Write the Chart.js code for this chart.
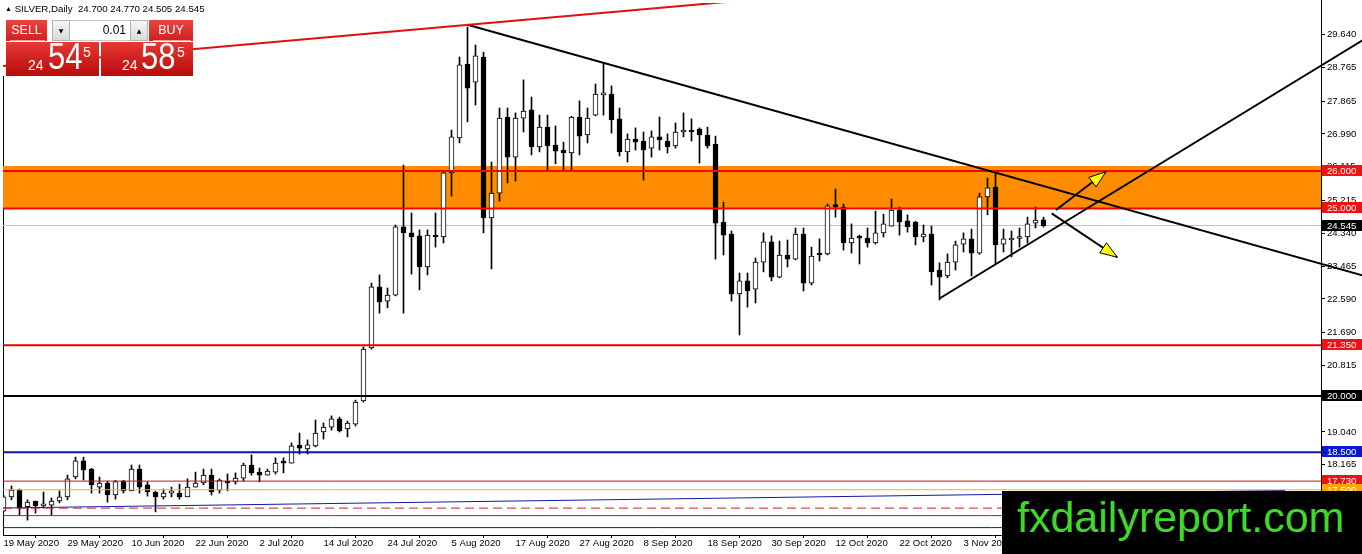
<!DOCTYPE html>
<html><head><meta charset="utf-8">
<script src="https://cdn.jsdelivr.net/npm/chart.js@4.4.0/dist/chart.umd.min.js"></script>
<style>
html,body{margin:0;padding:0;background:#fff;overflow:hidden}
#wrap{position:relative;width:1362px;height:554px;overflow:hidden}
canvas{position:absolute;left:0;top:0}
#hdr{position:absolute;left:5px;top:3px;font:9.7px 'Liberation Sans',Arial,sans-serif;color:#000;white-space:pre}
#hdr .tri{font-size:7px;position:relative;top:-1px}
.btn{position:absolute;top:20px;height:21px;background:linear-gradient(#ea4440,#d02020);color:#fff;font:12.5px 'Liberation Sans',Arial,sans-serif;text-align:center;line-height:21px}
.btn i{position:absolute;left:4px;right:2px;bottom:0;height:1px;background:#f2a0a0}
#sell{left:6px;width:41px}
#buy{left:149px;width:44px}
.arr{position:absolute;top:20px;width:18px;height:21px;box-sizing:border-box;border:1px solid #b4b4b4;background:linear-gradient(#f6f6f6,#dadada);font:6px 'DejaVu Sans',sans-serif;text-align:center;line-height:19px;color:#000}
#dn{left:52px}#up{left:130px}
#lot{position:absolute;left:70px;top:20px;width:60px;height:21px;box-sizing:border-box;border-top:1px solid #c8c8c8;border-bottom:1px solid #c8c8c8;background:#fff;font:12px 'Liberation Sans',Arial,sans-serif;text-align:right;padding-right:4px;line-height:19px;color:#000}
.big{position:absolute;top:42px;height:34px;background:linear-gradient(#e63834,#b80c0c);color:#fff;font-family:'Liberation Sans',Arial,sans-serif}
#bs{left:6px;width:93px}#bb{left:101px;width:92px}
.big span{position:absolute;white-space:nowrap}
.sm{font-size:14px;line-height:14px;top:16px}
.lg{font-size:36px;line-height:36px;top:-3px;transform:scaleX(0.86);transform-origin:0 0}
.sup{font-size:14px;line-height:14px;top:3px}
#wm{position:absolute;left:1002px;top:491px;width:360px;height:63px;background:#000}
#wm span{position:absolute;left:15px;top:5px;font:43px/43px 'Liberation Sans',Arial,sans-serif;color:#40d82a;white-space:nowrap}
</style></head><body>
<div id="wrap">
<canvas id="c" width="1362" height="554"></canvas>
<div id="hdr"><span class="tri">▲</span> SILVER,Daily  24.700 24.770 24.505 24.545</div>
<div class="btn" id="sell">SELL<i></i></div>
<div class="arr" id="dn">▼</div>
<div id="lot">0.01</div>
<div class="arr" id="up">▲</div>
<div class="btn" id="buy">BUY<i></i></div>
<div class="big" id="bs"><span class="sm" style="left:22px">24</span><span class="lg" style="left:42px">54</span><span class="sup" style="left:77px">5</span></div>
<div class="big" id="bb"><span class="sm" style="left:21px">24</span><span class="lg" style="left:40px">58</span><span class="sup" style="left:76px">5</span></div>
<div id="wm"><span>fxdailyreport.com</span></div>
</div>
<script>
// ---- data ----
const tickBars = [0,8,16,24,32,40,48,56,64,72,80,88,96,104,112,120];
const tickLabelsX = ['19 May 2020','29 May 2020','10 Jun 2020','22 Jun 2020','2 Jul 2020','14 Jul 2020','24 Jul 2020','5 Aug 2020','17 Aug 2020','27 Aug 2020','8 Sep 2020','18 Sep 2020','30 Sep 2020','12 Oct 2020','22 Oct 2020','3 Nov 2020'];
const yTickValues = [29.640,28.765,27.865,26.990,26.115,25.215,24.340,23.465,22.590,21.690,20.815,19.940,19.040,18.165,17.290,16.415];
const yTickLabels = ['29.640','28.765','27.865','26.990','26.115','25.215','24.340','23.465','22.590','21.690','20.815','19.940','19.040','18.165','17.290','16.415'];

const openVals = [16.93,17.31,17.49,17.05,17.19,17.07,17.09,17.20,17.31,17.84,
18.27,18.05,17.57,17.68,17.36,17.73,17.47,18.05,17.63,17.44,
17.31,17.41,17.41,17.31,17.57,17.68,17.89,17.49,17.73,17.71,
17.81,18.16,17.97,17.89,17.97,18.24,18.21,18.69,18.59,18.67,
19.04,19.17,19.39,19.12,19.25,19.87,21.28,22.91,22.53,22.69,
24.51,24.35,24.27,23.44,24.29,24.24,25.95,26.88,28.85,28.37,
29.04,24.75,25.41,27.44,26.37,27.41,27.63,26.64,27.17,26.69,
26.56,26.48,27.44,26.96,27.49,28.03,28.05,27.39,26.51,26.85,
26.80,26.61,26.91,26.80,26.67,27.04,27.09,27.12,26.96,26.72,
24.64,24.32,22.72,23.07,22.85,23.57,24.11,23.17,23.76,23.65,
24.32,23.01,23.79,23.79,25.07,25.04,24.08,24.24,24.21,24.08,
24.35,24.53,24.96,24.67,24.64,24.24,24.32,23.36,23.20,23.57,
24.05,24.19,23.81,25.31,25.57,24.05,24.16,24.20,24.24,24.61,
24.700];
const highVals = [17.36,17.60,17.52,17.23,17.20,17.44,17.28,17.47,17.89,18.37,
18.37,18.07,17.84,17.73,17.75,17.75,18.16,18.16,17.71,17.46,
17.52,17.57,17.65,17.79,17.97,18.05,18.05,17.79,17.92,17.95,
18.21,18.43,18.08,18.05,18.35,18.35,18.75,19.01,18.83,19.36,
19.28,19.47,19.44,19.33,19.89,21.31,23.01,23.23,22.88,24.56,
26.16,24.88,24.43,24.43,24.88,25.97,27.09,29.04,29.84,29.36,
29.17,26.24,27.68,27.68,27.55,28.43,27.97,27.49,27.49,27.20,
26.77,27.46,27.87,27.68,28.32,28.88,28.27,27.68,26.99,27.15,
27.04,27.07,27.44,26.99,27.28,27.55,27.39,27.15,27.17,26.93,
25.17,24.40,23.28,23.28,23.68,24.35,24.27,24.13,24.16,24.48,
24.48,23.97,24.19,25.12,25.52,25.12,24.59,24.29,24.48,24.93,
24.85,25.25,25.04,24.83,24.66,24.56,24.53,23.55,23.79,24.13,
24.35,24.45,25.41,25.81,25.95,24.45,24.40,24.48,24.77,25.04,
24.770];
const lowVals = [16.91,17.23,16.83,16.69,16.88,17.01,16.83,17.15,17.23,17.79,
17.76,17.41,17.41,17.17,17.25,17.41,17.47,17.41,17.33,16.91,
17.25,17.31,17.25,17.31,17.57,17.63,17.36,17.41,17.47,17.65,
17.73,17.89,17.71,17.89,17.92,17.95,18.21,18.45,18.45,18.64,
18.85,19.09,19.04,18.91,19.20,19.84,21.25,22.21,22.35,22.67,
22.21,23.25,22.83,23.23,23.97,24.08,25.33,26.75,27.31,27.76,
24.35,23.39,25.20,25.68,25.73,27.04,26.43,26.51,26.00,26.19,
26.00,26.00,26.43,26.75,27.47,27.49,27.01,26.40,26.24,26.56,
25.76,26.37,26.56,26.48,26.61,26.91,26.80,26.21,26.61,23.65,
23.76,22.53,21.63,22.37,22.48,23.31,23.07,23.15,23.44,23.63,
22.80,22.96,23.60,23.76,24.77,23.89,23.81,23.52,23.97,24.05,
24.24,24.53,24.29,24.37,24.03,24.11,22.96,22.56,23.15,23.36,
23.84,23.20,23.78,24.83,23.52,23.84,23.71,23.97,24.08,24.48,
24.505];
const closeVals = [17.31,17.49,17.01,17.17,17.07,17.09,17.20,17.31,17.79,18.27,
18.03,17.63,17.68,17.36,17.72,17.47,18.05,17.57,17.44,17.31,
17.41,17.47,17.31,17.57,17.68,17.89,17.44,17.76,17.68,17.81,
18.16,17.95,17.89,18.00,18.21,18.21,18.67,18.61,18.70,19.01,
19.17,19.39,19.07,19.28,19.84,21.25,22.91,22.51,22.69,24.51,
24.35,24.24,23.44,24.29,24.24,25.95,26.91,28.83,28.21,29.07,
24.75,25.41,27.41,26.37,27.41,27.60,26.64,27.17,26.67,26.53,
26.48,27.44,26.93,27.41,28.05,28.05,27.36,26.51,26.85,26.77,
26.56,26.91,26.83,26.64,27.04,27.07,27.04,26.96,26.67,24.61,
24.29,22.72,23.07,22.80,23.57,24.11,23.17,23.76,23.65,24.32,
23.01,23.73,23.76,25.07,25.05,24.08,24.21,24.21,24.08,24.35,
24.59,24.96,24.64,24.51,24.24,24.32,23.31,23.17,23.57,24.03,
24.19,23.81,25.31,25.55,24.03,24.19,24.21,24.22,24.59,24.69,
24.545];

// horizontal levels
const bandRange = [25.000, 26.130];
const bidLevel = 24.545;
const levelValues = [26.000, 25.000, 21.350, 20.000, 18.500, 17.730, 17.500, 17.010, 16.810, 16.490];
// trend lines [x1,y1,x2,y2] in bar index / price
const redLine = [-0.0625, 28.80, 100, 30.69];
const downTrend = [58, 29.90, 170, 23.21];
const supportLine = [117, 22.60, 170, 29.50];
const blueSlope = [-0.0625, 17.013, 160.2, 17.48];
const arrowUp = [131.56, 24.96, 137.81, 25.98];
const arrowDown = [131.02, 24.87, 139.22, 23.70];
// price tags on axis
const tagValues = [26.000, 25.000, 24.545, 21.350, 20.000, 18.500, 17.730, 17.500];
const tagLabels = ['26.000','25.000','24.545','21.350','20.000','18.500','17.730','17.500'];

// ---- styles ----
const levelStyles = [
  {c:'#ff0000', w:2}, {c:'#ff0000', w:2}, {c:'#ee0000', w:2}, {c:'#000000', w:2},
  {c:'#1616a6', w:2}, {c:'#d01010', w:1}, {c:'#f0b030', w:1}, {c:'#d02020', w:1, d:[9,5]},
  {c:'#c81414', w:1}, {c:'#1616a6', w:1}
];
const tagColors = ['#f01212','#f01212','#000000','#f01212','#000000','#0a18d0','#f01212','#ffa500'];

const XMIN = -0.0625, XMAX = 164.6875, YMIN = 16.2933, YMAX = 30.48;
const FONT = {family:"'Liberation Sans', Arial, sans-serif", size:9.6};

function seg(a, color, width, order, clip, dash){
  return {type:'line', data:[{x:a[0], y:a[1]},{x:a[2], y:a[3]}], borderColor:color, borderWidth:width,
    pointRadius:0, tension:0, fill:false, order:order, clip:clip, borderDash:dash||[]};
}

const datasets = [];
datasets.push({type:'bar', data: openVals.map((o,i)=>({x:i, y:[Math.min(o,closeVals[i]), Math.max(o,closeVals[i])]})),
  backgroundColor: openVals.map((o,i)=> closeVals[i] >= o ? '#ffffff' : '#000000'),
  borderColor:'#000000', borderWidth:1, borderSkipped:false, barThickness:5, minBarLength:2, grouped:false, order:3});
datasets.push({type:'bar', data: lowVals.map((l,i)=>({x:i, y:[l, highVals[i]]})),
  backgroundColor:'#000000', borderWidth:0, barThickness:1, grouped:false, order:4});
// band
datasets.push({type:'line', data:[{x:XMIN,y:bandRange[1]},{x:XMAX,y:bandRange[1]}], borderWidth:0, pointRadius:0,
  backgroundColor:'#ff8c00', fill:'+1', order:10});
datasets.push({type:'line', data:[{x:XMIN,y:bandRange[0]},{x:XMAX,y:bandRange[0]}], borderWidth:0, pointRadius:0, fill:false, order:11});
datasets.push(seg([XMIN,bidLevel,XMAX,bidLevel], '#c0c0c0', 1, 9));
levelValues.forEach((v,k)=>{ const s = levelStyles[k]; datasets.push(seg([XMIN,v,XMAX,v], s.c, s.w, 1, undefined, s.d)); });
datasets.push(seg(blueSlope, '#1616a6', 1, 1));
datasets.push(seg(redLine, '#e01010', 2, 0));
datasets.push(seg(downTrend, '#000000', 2, 0, {left:0, top:0, right:60, bottom:0}));
datasets.push(seg(supportLine, '#000000', 2, 0, {left:0, top:0, right:60, bottom:0}));
datasets.push(seg(arrowUp, '#000000', 2, 0, false));
datasets.push(seg(arrowDown, '#000000', 2, 0, false));

const framePlugin = {id:'frame', beforeDatasetsDraw(chart){
  const {ctx, chartArea} = chart; ctx.save(); ctx.fillStyle = '#000';
  ctx.fillRect(chartArea.left, 76, 1, chartArea.bottom - 76);
  ctx.fillRect(chartArea.right, 0, 1, chartArea.top); ctx.restore(); }};

const arrowPlugin = {id:'arrows', afterDatasetsDraw(chart){
  const {ctx, scales:{x, y}} = chart;
  [arrowUp, arrowDown].forEach(a=>{
    const x1 = x.getPixelForValue(a[0]), y1 = y.getPixelForValue(a[1]);
    const x2 = x.getPixelForValue(a[2]), y2 = y.getPixelForValue(a[3]);
    const ang = Math.atan2(y2-y1, x2-x1), L = 17, W = 6;
    const bx = x2 - L*Math.cos(ang), by = y2 - L*Math.sin(ang);
    ctx.save(); ctx.beginPath(); ctx.moveTo(x2, y2);
    ctx.lineTo(bx + W*Math.sin(ang), by - W*Math.cos(ang));
    ctx.lineTo(bx - W*Math.sin(ang), by + W*Math.cos(ang)); ctx.closePath();
    ctx.fillStyle = '#ffff00'; ctx.fill(); ctx.lineWidth = 1; ctx.strokeStyle = '#000'; ctx.stroke(); ctx.restore();
  });
}};

const tagPlugin = {id:'tags', afterDraw(chart){
  const {ctx, chartArea, scales:{y}} = chart; ctx.save();
  ctx.font = FONT.size + 'px ' + FONT.family; ctx.textBaseline = 'middle'; ctx.textAlign = 'left';
  tagValues.forEach((v,k)=>{
    const p = Math.round(y.getPixelForValue(v));
    ctx.fillStyle = tagColors[k]; ctx.fillRect(chartArea.right + 1, p - 6, 1362 - chartArea.right, 11);
    ctx.fillStyle = '#ffffff'; ctx.fillText(tagLabels[k], chartArea.right + 6, p);
  });
  ctx.restore(); }};

new Chart(document.getElementById('c'), {
  type:'bar',
  data:{datasets},
  options:{
    responsive:false, animation:false, devicePixelRatio:1, events:[],
    layout:{padding:{left:3, top:3, right:0, bottom:0}},
    plugins:{legend:{display:false}, tooltip:{enabled:false}},
    scales:{
      x:{type:'linear', min:XMIN, max:XMAX, offset:false,
        grid:{display:true, drawOnChartArea:false, drawTicks:true, tickLength:3, color:'#000'},
        border:{display:true, color:'#000', width:1},
        afterBuildTicks:(s)=>{ s.ticks = tickBars.map(v=>({value:v})); },
        ticks:{autoSkip:false, maxRotation:0, minRotation:0, align:'start', color:'#000', font:FONT, padding:0,
          callback:(v,i)=> tickLabelsX[i]},
        afterFit:(s)=>{ s.height = 19; s.paddingLeft = 0; s.paddingRight = 0; }},
      y:{type:'linear', position:'right', min:YMIN, max:YMAX,
        grid:{display:true, drawOnChartArea:false, drawTicks:true, tickLength:4, color:'#000'},
        border:{display:true, color:'#000', width:1},
        afterBuildTicks:(s)=>{ s.ticks = yTickValues.map(v=>({value:v})); },
        ticks:{autoSkip:false, color:'#000', font:FONT, padding:2, callback:(v,i)=> yTickLabels[i]},
        afterFit:(s)=>{ s.width = 41; s.paddingTop = 0; s.paddingBottom = 0; }}
    }
  },
  plugins:[framePlugin, arrowPlugin, tagPlugin]
});
</script>
</body></html>
